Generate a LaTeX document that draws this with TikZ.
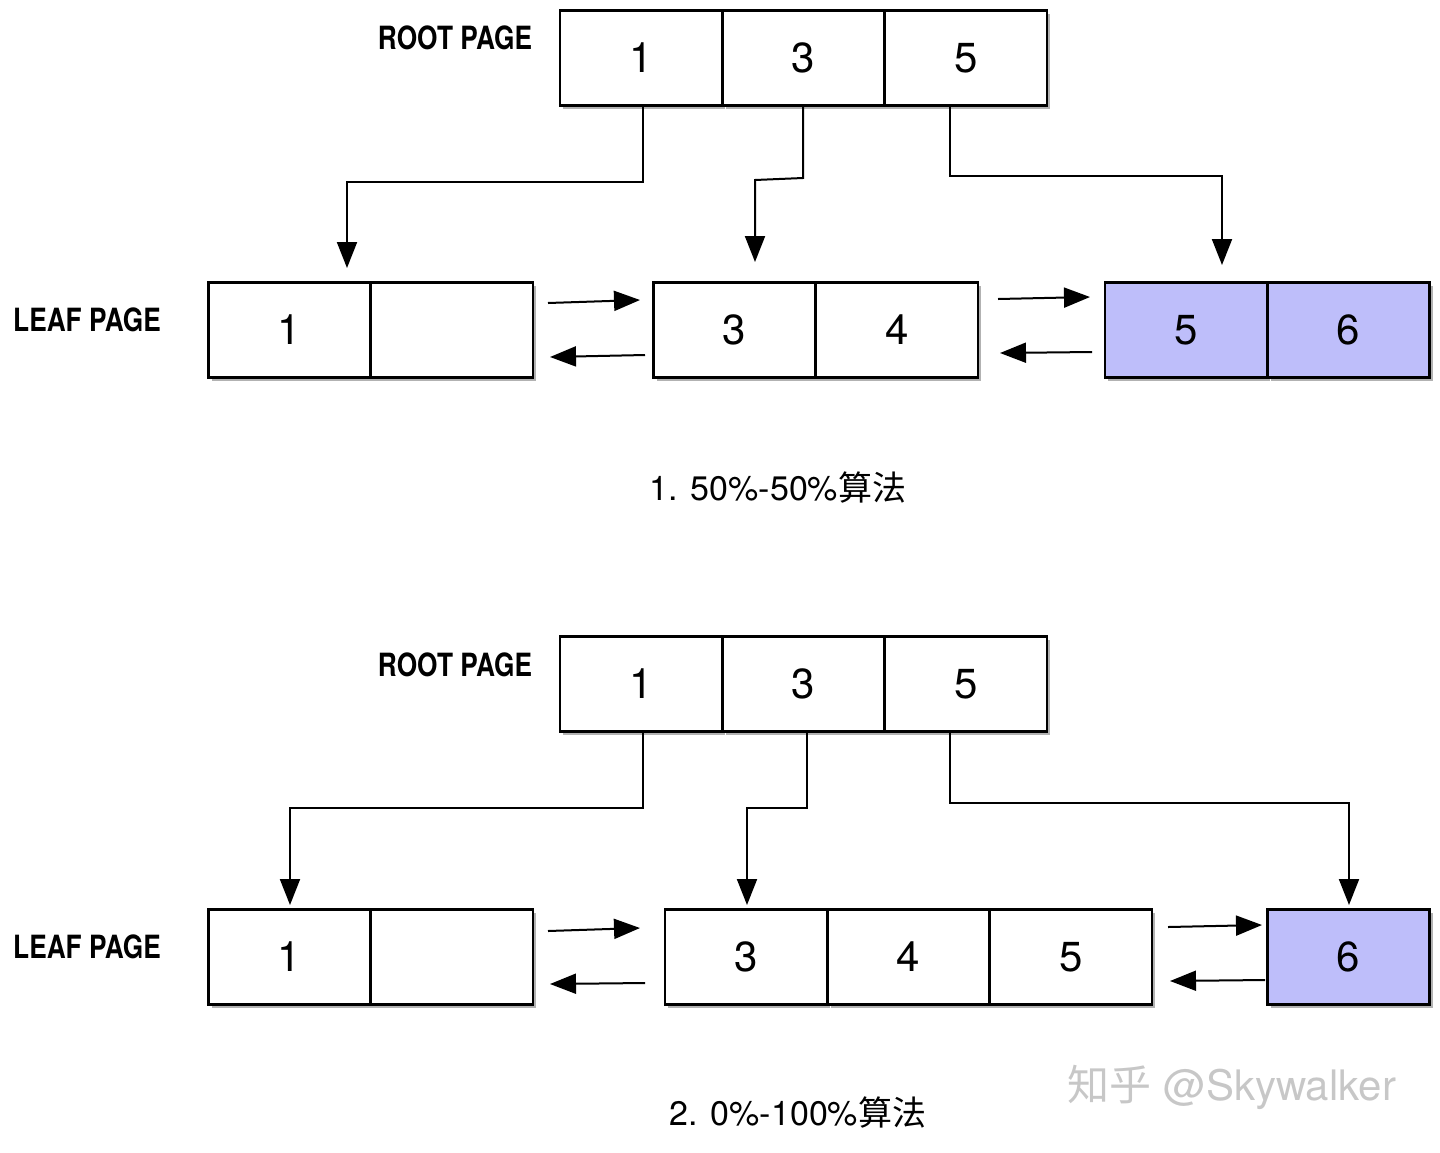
\documentclass[tikz,border=0pt]{standalone}
\usepackage{fontspec}
\setmainfont{TeX Gyre Heros}
\newfontfamily\cjk{Noto Sans CJK SC}
\usetikzlibrary{arrows.meta,shadows}
\definecolor{lav}{RGB}{190,190,250}
\begin{document}
\begin{tikzpicture}[x=0.5pt,y=-0.5pt,
 cell/.style={draw,line width=1.2pt,minimum width=81pt,minimum height=47.5pt,inner sep=0pt,font=\fontsize{21}{21}\selectfont,
   drop shadow={shadow xshift=1.5pt,shadow yshift=-1.5pt,fill=black,opacity=0.3}, fill=white},
 hl/.style={fill=lav},
 lbl/.style={font=\bfseries\fontsize{16}{16}\selectfont,xscale=0.82},
 capt/.style={font=\fontsize{17}{17}\selectfont},
 arr/.style={line width=1pt,-{Triangle[length=13pt,width=10pt]}}]
\useasboundingbox (0,0) rectangle (1440,1152);
% ---------- part 1
\node[lbl] (r1l) at (455,38) {ROOT PAGE};
\node[lbl] (l1l) at (87,320) {LEAF PAGE};
\node[cell] (a1) at (641,58) {1};
\node[cell] (a3) at (803.5,58) {3};
\node[cell] (a5) at (966,58) {5};
\node[cell] (b1) at (289.5,330) {1};
\node[cell] (b2) at (452,330) {};
\node[cell] (c3) at (734.5,330) {3};
\node[cell] (c4) at (897,330) {4};
\node[cell,hl] (d5) at (1186,330) {5};
\node[cell,hl] (d6) at (1348.5,330) {6};
\coordinate (t1) at (347,268);
\coordinate (t2) at (755,262);
\coordinate (t3) at (1222,265);
\draw[arr] (643,105) -- (643,182) -- (347,182) -- (t1);
\draw[arr] (803,105) -- (803,178) -- (755,180) -- (t2);
\draw[arr] (950,105) -- (950,176) -- (1222,176) -- (t3);
\coordinate (h1a) at (548,303); \coordinate (h1b) at (640,300);
\coordinate (h2a) at (645,355); \coordinate (h2b) at (550,357);
\coordinate (h3a) at (998,299); \coordinate (h3b) at (1090,297);
\coordinate (h4a) at (1092,352); \coordinate (h4b) at (1000,353);
\draw[arr] (h1a) -- (h1b); \draw[arr] (h2a) -- (h2b);
\draw[arr] (h3a) -- (h3b); \draw[arr] (h4a) -- (h4b);
\node[capt] (cap1) at (778,488) {1. 50\%-50\%{\cjk 算法}};
% ---------- part 2
\node[lbl] (r2l) at (455,665) {ROOT PAGE};
\node[lbl] (l2l) at (87,947) {LEAF PAGE};
\node[cell] (e1) at (641,684) {1};
\node[cell] (e3) at (803.5,684) {3};
\node[cell] (e5) at (966,684) {5};
\node[cell] (f1) at (289.5,957) {1};
\node[cell] (f2) at (452,957) {};
\node[cell] (g3) at (746,957) {3};
\node[cell] (g4) at (908.5,957) {4};
\node[cell] (g5) at (1071,957) {5};
\node[cell,hl] (k6) at (1348.5,957) {6};
\coordinate (u1) at (290,905);
\coordinate (u2) at (747,905);
\coordinate (u3) at (1349,905);
\draw[arr] (643,732) -- (643,808) -- (290,808) -- (u1);
\draw[arr] (807,732) -- (807,808) -- (747,808) -- (u2);
\draw[arr] (950,732) -- (950,803) -- (1349,803) -- (u3);
\coordinate (i1a) at (548,931); \coordinate (i1b) at (640,928);
\coordinate (i2a) at (645,983); \coordinate (i2b) at (550,984);
\coordinate (i3a) at (1168,927); \coordinate (i3b) at (1262,925);
\coordinate (i4a) at (1265,980); \coordinate (i4b) at (1170,981);
\draw[arr] (i1a) -- (i1b); \draw[arr] (i2a) -- (i2b);
\draw[arr] (i3a) -- (i3b); \draw[arr] (i4a) -- (i4b);
\node[capt] (cap2) at (798,1112) {2. 0\%-100\%{\cjk 算法}};
\node[font=\fontsize{21}{21}\selectfont,text=black!22] (wm) at (1232,1087) {{\cjk 知乎} @Skywalker};
\end{tikzpicture}
\end{document}
